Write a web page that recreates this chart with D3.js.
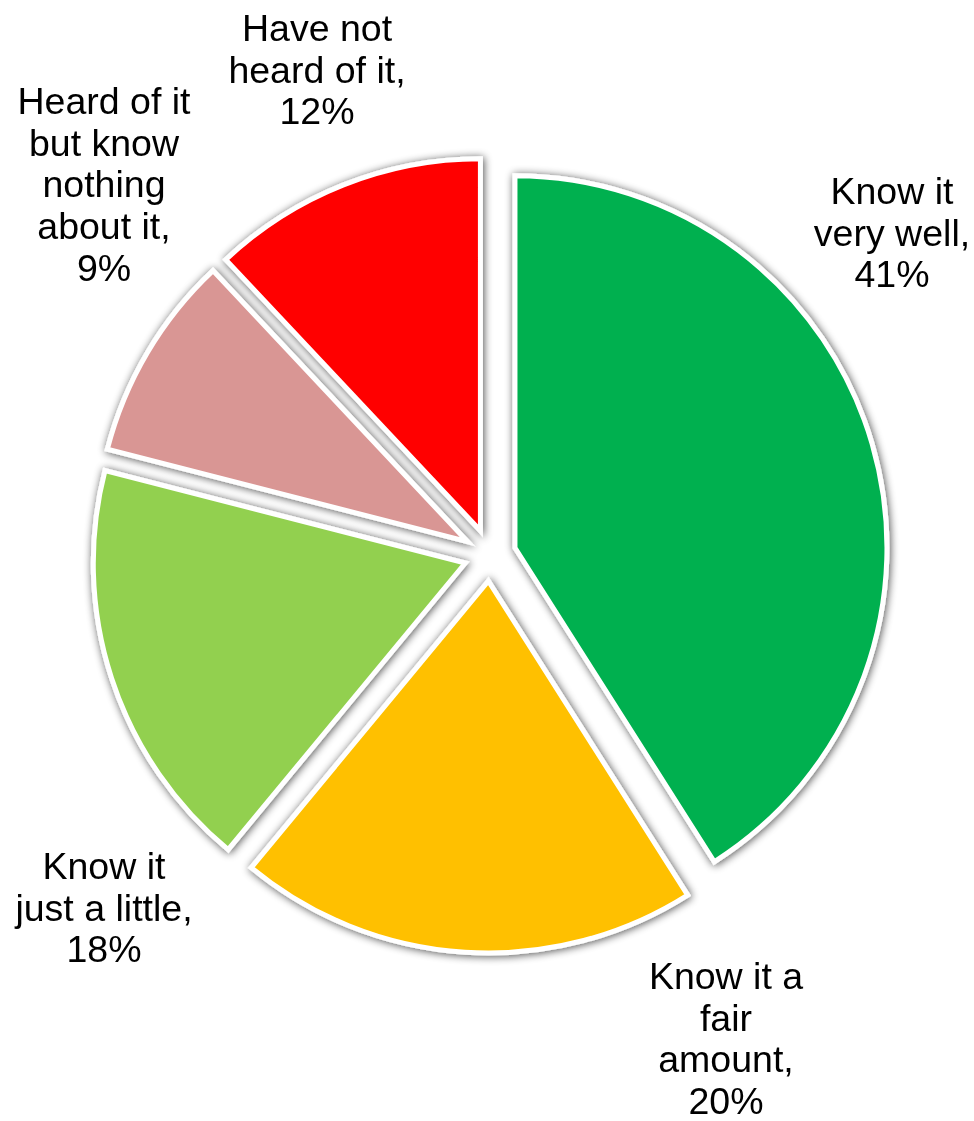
<!DOCTYPE html>
<html>
<head>
<meta charset="utf-8">
<script src="https://cdn.jsdelivr.net/npm/d3@7"></script>
<style>
  html, body { margin: 0; padding: 0; background: #ffffff; }
  svg { display: block; }
</style>
</head>
<body>
<svg id="chart" width="974" height="1121"></svg>
<script>
// Survey answers, clockwise from 12 o'clock
const categories = [
  "Know it very well",
  "Know it a fair amount",
  "Know it just a little",
  "Heard of it but know nothing about it",
  "Have not heard of it"
];
const values = [41, 20, 18, 9, 12];
const colors = ["#00B050", "#FFC000", "#92D050", "#D99694", "#FF0000"];

// How each category name wraps onto lines in its label
const labelLines = [
  ["Know it", "very well"],
  ["Know it a", "fair", "amount"],
  ["Know it", "just a little"],
  ["Heard of it", "but know", "nothing", "about it"],
  ["Have not", "heard of it"]
];

// Label placement: centre x and first baseline y
const labelAnchors = [
  [892, 204],
  [726, 989],
  [104, 879],
  [104, 114],
  [317, 41]
];

const width = 974, height = 1121;
const cx = 490, cy = 555;
const radius = 372;
const explode = 26;
const fontSize = 37.5, lineHeight = 41.7;

const svg = d3.select("#chart");

// Soft grey shadow around the slices
const defs = svg.append("defs");
const f = defs.append("filter")
  .attr("id", "shadow")
  .attr("x", "-10%").attr("y", "-10%")
  .attr("width", "120%").attr("height", "120%");
f.append("feGaussianBlur").attr("in", "SourceAlpha").attr("stdDeviation", 4.5).attr("result", "blur");
f.append("feOffset").attr("in", "blur").attr("dx", 1).attr("dy", 1).attr("result", "off");
f.append("feComponentTransfer").attr("in", "off").attr("result", "shade")
  .append("feFuncA").attr("type", "linear").attr("slope", 0.7);
const merge = f.append("feMerge");
merge.append("feMergeNode").attr("in", "shade");
merge.append("feMergeNode").attr("in", "SourceGraphic");

const data = categories.map((c, i) => ({ category: c, value: values[i], color: colors[i], index: i }));

const pie = d3.pie()
  .sort(null)
  .value(d => d.value)
  .startAngle(0)
  .endAngle(2 * Math.PI);

const arc = d3.arc()
  .innerRadius(0)
  .outerRadius(radius);

const arcs = pie(data);

const slices = svg.append("g")
  .attr("transform", `translate(${cx},${cy})`)
  .attr("filter", "url(#shadow)");

slices.selectAll("path")
  .data(arcs)
  .join("path")
  .attr("transform", d => {
    const mid = (d.startAngle + d.endAngle) / 2;
    return `translate(${Math.sin(mid) * explode},${-Math.cos(mid) * explode})`;
  })
  .attr("d", arc)
  .attr("fill", d => d.data.color)
  .attr("stroke", "#ffffff")
  .attr("stroke-width", 5)
  .attr("stroke-linejoin", "miter");

// Data labels: category name then value
const labels = svg.append("g")
  .attr("font-family", "'Liberation Sans', Arial, sans-serif")
  .attr("font-size", fontSize)
  .attr("fill", "#000000")
  .attr("text-anchor", "middle");

data.forEach((d, i) => {
  const lines = labelLines[i].slice();
  lines[lines.length - 1] += ",";
  lines.push(d3.format("d")(d.value) + "%");
  const [x, y] = labelAnchors[i];
  const t = labels.append("text").attr("x", x).attr("y", y);
  lines.forEach((line, k) => {
    t.append("tspan")
      .attr("x", x)
      .attr("y", y + k * lineHeight)
      .text(line);
  });
});
</script>
</body>
</html>
